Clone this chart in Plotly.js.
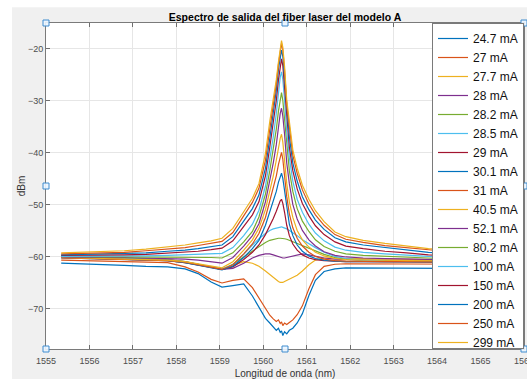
<!DOCTYPE html>
<html>
<head>
<meta charset="utf-8">
<script src="https://cdn.plot.ly/plotly-3.0.1.min.js"></script>
<style>html,body{margin:0;padding:0;background:#fff;}#chart{width:527px;height:379px;}</style>
</head>
<body>
<div id="chart"></div>
<script>
// Wavelength grid (nm)
const wavelength = [1555.35,1555.8,1556.3,1556.8,1557.3,1557.8,1558.2,1558.5,1558.8,1559.05,1559.3,1559.55,1559.75,1559.9,1560.05,1560.15,1560.23,1560.3,1560.35,1560.39,1560.42,1560.45,1560.49,1560.54,1560.6,1560.68,1560.78,1560.9,1561.05,1561.2,1561.4,1561.65,1561.9,1562.3,1562.8,1563.3,1563.8,1564.3,1564.8,1565.3,1565.8];

// Series labels (pump current)
const currentLabels = ["24.7 mA","27 mA","27.7 mA","28 mA","28.2 mA","28.5 mA","29 mA","30.1 mA","31 mA","40.5 mA","52.1 mA","80.2 mA","100 mA","150 mA","200 mA","250 mA","299 mA"];

// Spectra (dBm)
const ma24_7 = [-61.3,-61.4,-61.6,-61.7,-61.9,-62.0,-62.4,-63.3,-64.9,-65.9,-65.6,-65.3,-67.6,-69.8,-71.9,-72.8,-73.6,-74.2,-73.8,-74.6,-74.3,-75.2,-74.5,-74.9,-74.2,-73.8,-72.8,-71.0,-67.5,-64.6,-62.9,-62.4,-62.2,-62.2,-62.2,-62.3,-62.3,-62.3,-62.4,-62.4,-62.4];
const ma27 = [-60.7,-60.8,-60.9,-61.0,-61.1,-61.2,-62.0,-63.0,-64.4,-65.1,-64.6,-64.3,-66.0,-68.0,-70.2,-71.3,-72.0,-72.5,-72.2,-72.9,-72.6,-73.3,-72.8,-73.1,-72.7,-72.2,-71.2,-69.5,-66.2,-63.5,-61.9,-61.5,-61.4,-61.4,-61.4,-61.5,-61.5,-61.5,-61.5,-61.6,-61.6];
const ma27_7 = [-60.2,-60.3,-60.4,-60.5,-60.6,-60.8,-61.2,-61.6,-62.0,-62.5,-61.8,-61.0,-61.3,-61.9,-62.8,-63.5,-64.1,-64.5,-64.8,-65.0,-65.0,-65.0,-64.8,-64.6,-64.3,-63.9,-63.6,-62.8,-61.6,-60.7,-60.3,-60.3,-60.4,-60.4,-60.5,-60.5,-60.6,-60.6,-60.6,-60.7,-60.7];
const ma28 = [-60.0,-60.1,-60.2,-60.3,-60.4,-60.6,-61.0,-61.5,-62.0,-62.5,-62.3,-61.3,-60.3,-59.8,-59.5,-59.5,-59.7,-59.9,-60.1,-60.2,-60.3,-60.3,-60.3,-60.2,-60.0,-59.8,-59.6,-59.5,-59.7,-60.0,-60.3,-60.5,-60.6,-60.7,-60.8,-60.8,-60.9,-60.9,-60.9,-60.9,-61.0];
const ma28_2 = [-60.0,-60.1,-60.2,-60.3,-60.4,-60.6,-61.0,-61.5,-62.1,-62.5,-61.5,-60.1,-59.0,-58.0,-57.3,-56.9,-56.7,-56.6,-56.5,-56.5,-56.5,-56.5,-56.6,-56.7,-56.9,-57.2,-57.6,-58.0,-58.4,-59.0,-59.6,-60.2,-60.5,-60.7,-60.8,-60.9,-61.0,-61.0,-61.0,-61.1,-61.1];
const ma28_5 = [-60.1,-60.2,-60.3,-60.4,-60.5,-60.7,-61.1,-61.6,-62.1,-62.4,-61.6,-59.6,-57.8,-56.6,-55.6,-55.0,-54.7,-54.5,-54.4,-54.3,-54.3,-54.4,-54.5,-54.7,-55.0,-55.4,-56.0,-56.8,-57.6,-58.3,-59.2,-60.0,-60.4,-60.7,-60.9,-61.0,-61.0,-61.1,-61.1,-61.1,-61.2];
const ma29 = [-60.2,-60.3,-60.4,-60.5,-60.6,-60.8,-61.2,-61.7,-62.2,-62.5,-62.0,-60.6,-59.2,-57.8,-55.8,-54.2,-52.7,-51.3,-50.1,-49.3,-49.0,-49.8,-51.5,-54.0,-56.0,-57.6,-58.8,-59.7,-60.3,-60.6,-60.8,-60.9,-61.0,-61.0,-61.0,-61.1,-61.1,-61.1,-61.1,-61.2,-61.2];
const ma30_1 = [-60.3,-60.4,-60.5,-60.5,-60.6,-60.8,-61.2,-61.7,-62.3,-62.6,-61.9,-60.2,-58.5,-56.9,-54.0,-51.5,-49.5,-47.5,-45.7,-44.5,-44.0,-45.0,-47.5,-51.0,-53.8,-56.0,-57.8,-59.0,-59.9,-60.4,-60.7,-60.9,-61.0,-61.0,-61.0,-61.1,-61.1,-61.1,-61.1,-61.2,-61.2];
const ma31 = [-60.3,-60.4,-60.4,-60.5,-60.6,-60.8,-61.1,-61.6,-62.2,-62.5,-61.6,-59.5,-57.6,-55.6,-52.5,-49.5,-47.0,-44.5,-42.3,-40.8,-40.0,-41.3,-44.5,-48.5,-51.8,-54.5,-56.5,-58.0,-59.2,-60.0,-60.5,-60.8,-60.9,-61.0,-61.0,-61.0,-61.1,-61.1,-61.1,-61.1,-61.1];
const ma40_5 = [-60.2,-60.3,-60.3,-60.4,-60.5,-60.7,-61.0,-61.4,-61.9,-62.2,-61.0,-58.8,-56.8,-54.6,-51.0,-47.5,-44.5,-41.5,-39.0,-37.3,-36.5,-38.0,-41.5,-46.0,-49.5,-52.5,-55.0,-56.8,-58.2,-59.2,-59.9,-60.4,-60.6,-60.7,-60.7,-60.8,-60.8,-60.8,-60.9,-60.9,-60.9];
const ma52_1 = [-60.1,-60.2,-60.2,-60.2,-60.3,-60.4,-60.5,-60.7,-61.0,-61.3,-60.2,-58.0,-56.0,-53.7,-49.5,-45.5,-42.0,-38.5,-35.0,-32.5,-31.5,-33.0,-36.5,-42.0,-46.0,-50.0,-52.8,-55.0,-56.8,-58.0,-59.1,-59.8,-60.1,-60.3,-60.4,-60.5,-60.6,-60.6,-60.7,-60.7,-60.7];
const ma80_2 = [-60.0,-60.1,-60.1,-60.1,-60.1,-60.1,-60.1,-60.1,-60.2,-60.3,-59.3,-57.2,-55.2,-52.4,-48.0,-43.5,-39.5,-35.5,-32.0,-29.5,-28.5,-30.0,-33.5,-39.0,-43.5,-47.5,-50.8,-53.2,-55.2,-56.8,-58.1,-59.0,-59.5,-59.8,-60.0,-60.2,-60.3,-60.4,-60.4,-60.5,-60.5];
const ma100 = [-60.0,-60.0,-60.0,-60.0,-59.9,-59.8,-59.7,-59.6,-59.5,-59.4,-58.3,-56.0,-53.8,-51.1,-46.5,-41.5,-37.0,-32.5,-28.5,-25.5,-24.5,-26.0,-30.0,-36.0,-41.0,-45.5,-49.0,-51.5,-53.8,-55.5,-57.0,-58.2,-58.8,-59.2,-59.5,-59.8,-60.0,-60.1,-60.2,-60.3,-60.3];
const ma150 = [-59.8,-59.8,-59.8,-59.7,-59.6,-59.4,-59.2,-59.0,-58.7,-58.4,-57.0,-54.3,-52.0,-49.5,-44.5,-39.0,-34.5,-30.0,-26.0,-23.0,-22.0,-23.3,-27.5,-34.0,-39.0,-43.5,-47.0,-49.8,-52.2,-54.1,-55.8,-57.2,-58.0,-58.5,-59.0,-59.3,-59.7,-59.9,-60.0,-60.1,-60.2];
const ma200 = [-59.7,-59.6,-59.6,-59.5,-59.3,-59.0,-58.8,-58.5,-58.1,-57.8,-56.2,-53.2,-50.8,-48.2,-43.0,-37.3,-32.5,-28.0,-24.0,-21.2,-20.3,-21.5,-25.5,-32.0,-37.0,-42.0,-45.5,-48.5,-51.0,-53.0,-54.8,-56.4,-57.2,-57.8,-58.3,-58.8,-59.2,-59.4,-59.6,-59.7,-59.8];
const ma250 = [-59.5,-59.4,-59.3,-59.2,-58.9,-58.6,-58.3,-57.9,-57.5,-57.1,-55.4,-52.2,-49.6,-46.9,-41.5,-35.5,-31.0,-26.8,-23.0,-20.0,-19.0,-20.3,-24.2,-30.8,-35.5,-40.5,-44.0,-47.2,-49.9,-52.0,-54.0,-55.8,-56.7,-57.3,-57.9,-58.3,-58.8,-59.1,-59.3,-59.5,-59.6];
const ma299 = [-59.3,-59.2,-59.1,-58.9,-58.6,-58.2,-57.8,-57.4,-57.0,-56.5,-54.6,-51.4,-48.8,-46.0,-40.2,-34.0,-30.0,-26.0,-22.5,-19.5,-18.5,-19.8,-23.5,-29.9,-34.5,-39.5,-43.0,-46.3,-49.0,-51.2,-53.3,-55.3,-56.2,-56.9,-57.5,-58.0,-58.5,-58.8,-59.0,-59.2,-59.3];

const seriesValues = [ma24_7, ma27, ma27_7, ma28, ma28_2, ma28_5, ma29, ma30_1, ma31, ma40_5, ma52_1, ma80_2, ma100, ma150, ma200, ma250, ma299];
const palette = ["#0072BD","#D95319","#EDB120","#7E2F8E","#77AC30","#4DBEEE","#A2142F"];

const traces = seriesValues.map((vals, i) => ({
  x: wavelength,
  y: vals,
  type: "scatter",
  mode: "lines",
  name: currentLabels[i],
  line: {color: palette[i % palette.length], width: 1.2},
  hoverinfo: "skip"
}));

const FONT = "Liberation Sans, Arial, Helvetica, sans-serif";

function handle(xa, ya) {
  return {type: "rect", xref: "paper", yref: "paper", xsizemode: "pixel", ysizemode: "pixel",
    xanchor: xa, yanchor: ya, x0: -3, x1: 3, y0: -3, y1: 3,
    line: {color: "#3f8ccf", width: 1}, fillcolor: "rgba(235,245,255,0.9)", layer: "above"};
}

const layout = {
  width: 527, height: 379,
  margin: {l: 46, r: 3, t: 23, b: 30, pad: 0},
  paper_bgcolor: "#ffffff",
  plot_bgcolor: "rgba(0,0,0,0)",
  font: {family: FONT, color: "#262626"},
  showlegend: true,
  title: {
    text: "Espectro de salida del fiber laser del modelo A",
    font: {family: FONT, size: 10.5, color: "#000000", weight: "bold"},
    x: 0.5, xref: "paper", xanchor: "center",
    y: 1 - 17.5/379, yref: "container", yanchor: "middle"
  },
  xaxis: {
    range: [1555, 1566], tick0: 1555, dtick: 1,
    ticks: "inside", ticklen: 4, tickcolor: "#6e6e6e", tickwidth: 1,
    showline: true, linecolor: "#7a7a7a", linewidth: 1, mirror: "allticks",
    showgrid: true, gridcolor: "#e6e6e6", gridwidth: 1, zeroline: false,
    tickfont: {family: FONT, size: 9, color: "#4d4d4d"},
    ticklabelstandoff: 3, ticklabeloverflow: "allow",
    title: {text: "Longitud de onda (nm)", font: {family: FONT, size: 10, color: "#333333"}, standoff: 6}
  },
  yaxis: {
    range: [-77.8, -15.1], tick0: -70, dtick: 10,
    ticks: "inside", ticklen: 4, tickcolor: "#6e6e6e", tickwidth: 1,
    showline: true, linecolor: "#7a7a7a", linewidth: 1, mirror: "allticks",
    showgrid: true, gridcolor: "#e6e6e6", gridwidth: 1, zeroline: false,
    tickfont: {family: FONT, size: 9, color: "#4d4d4d"},
    title: {text: "dBm", font: {family: FONT, size: 10, color: "#333333"}, standoff: 0}
  },
  legend: {
    x: 1, xanchor: "right", y: 1, yanchor: "top",
    bgcolor: "#ffffff", bordercolor: "#7a7a7a", borderwidth: 1,
    font: {family: FONT, size: 12, color: "#111111"},
    tracegroupgap: 0, itemwidth: 30
  },
  shapes: [
    {type: "rect", xref: "paper", yref: "paper", x0: -0.0711, x1: 1.0063, y0: -0.092, y1: 1.048,
      fillcolor: "#f0f0f0", line: {width: 0}, layer: "below"},
    {type: "rect", xref: "paper", yref: "paper", x0: 0, x1: 1, y0: 0, y1: 1,
      fillcolor: "#ffffff", line: {width: 0}, layer: "below"},
    handle(0, 0), handle(0.5, 0), handle(1, 0),
    handle(0, 0.5), handle(1, 0.5),
    handle(0, 1), handle(0.5, 1), handle(1, 1)
  ]
};

Plotly.newPlot("chart", traces, layout, {staticPlot: true, displayModeBar: false});
</script>
</body>
</html>
